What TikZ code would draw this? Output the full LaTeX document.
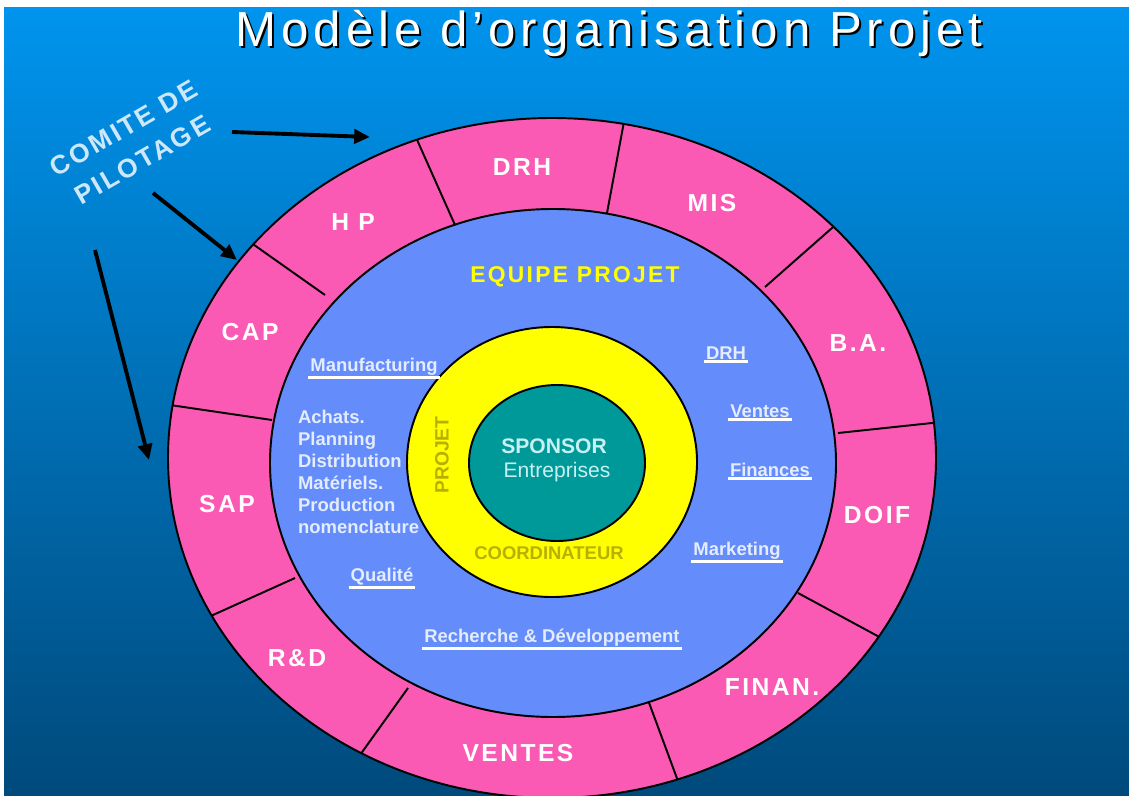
\documentclass[tikz,border=0pt]{standalone}
\usepackage{fontspec}
\setmainfont{Liberation Sans}
\newfontfamily\segfont{Liberation Sans}[LetterSpace=10]
\newfontfamily\titlefont{Liberation Sans}[LetterSpace=10]
\usetikzlibrary{positioning, arrows.meta, calc}

\definecolor{bgtop}{RGB}{0,148,238}
\definecolor{bgbot}{RGB}{0,74,124}
\definecolor{pinkring}{RGB}{250,90,180}
\definecolor{equipeblue}{RGB}{100,140,250}
\definecolor{sponsorteal}{RGB}{0,153,153}
\definecolor{coordyellow}{RGB}{255,255,0}
\definecolor{olive}{RGB}{185,175,0}
\definecolor{deptwhite}{RGB}{228,236,255}
\definecolor{sponsortext}{RGB}{200,240,240}
\definecolor{comitetext}{RGB}{205,232,252}

\begin{document}
\begin{tikzpicture}[x=0.2mm, y=-0.2mm,
    ring/.style={draw=black, line width=1.1pt},
    seg/.style={text=white, font=\segfont\bfseries\fontsize{14}{16}\selectfont},
    dept/.style={text=deptwhite, font=\bfseries\fontsize{10.5}{12.5}\selectfont, inner sep=1pt},
    ul/.style={white, line width=1.6pt},
    pil/.style={-{Triangle[length=9pt,width=8pt]}, line width=2.2pt, black}]
    \useasboundingbox (0,0) rectangle (1129,795);
    \clip (0,0) rectangle (1129,795);
    \fill[white] (0,0) rectangle (1129,795);
    \shade[top color=bgtop, bottom color=bgbot] (4,8) rectangle (1129,795);

    % titre
    \node[anchor=base, font=\titlefont\fontsize{28}{30}\selectfont, text=black] (titleshadow) at (611,49) {Modèle d’organisation Projet};
    \node[anchor=base, font=\titlefont\fontsize{28}{30}\selectfont, text=white] (title) at (609,47) {Modèle d’organisation Projet};

    % anneau des directions
    \fill[pinkring] (552,458) ellipse [x radius=384, y radius=340];
    \begin{scope}
      \clip (552,458) ellipse [x radius=384, y radius=340];
      \foreach \xo/\yo/\xi/\yi in {418/142/455/225, 623/127/607/213, 832/228/765/287, 932/423/838/433, 872/633/798/593,
                                   675/773/648/700, 360/755/408/688, 213/615/295/578, 170/405/272/420, 257/247/325/295}
        \draw[black, line width=1.1pt] (\xi,\yi) -- ($(\xi,\yi)!1.3!(\xo,\yo)$);
    \end{scope}
    \draw[ring] (552,458) ellipse [x radius=384, y radius=340];

    % equipe projet
    \draw[ring, fill=equipeblue] (553,463) ellipse [x radius=283, y radius=254];
    \draw[ring, fill=coordyellow] (552,462) ellipse [x radius=145, y radius=135];
    \draw[ring, fill=sponsorteal] (557,463) ellipse [x radius=88, y radius=78];

    \node[seg] (drh) at (522,167) {DRH};
    \node[seg] (hp) at (353,222) {H P};
    \node[seg] (cap) at (250,332) {CAP};
    \node[seg] (mis) at (712,203) {MIS};
    \node[seg] (ba) at (858,343) {B.A.};
    \node[seg] (doif) at (877,515) {DOIF};
    \node[seg] (finan) at (772,687) {FINAN.};
    \node[seg] (ventes) at (518,753) {VENTES};
    \node[seg] (rd) at (297,658) {R\&D};
    \node[seg] (sap) at (227,504) {SAP};

    \node[text=coordyellow, font=\segfont\bfseries\fontsize{13}{15}\selectfont] (equipe) at (575,277) {EQUIPE PROJET};

    \node[dept] (manu) at (374,367) {Manufacturing};
    \node[dept, anchor=north west, align=left] (achats) at (296,408) {Achats.\\Planning\\Distribution\\Matériels.\\Production\\nomenclature};
    \node[dept] (qual) at (382,577) {Qualité};
    \node[dept] (drhdept) at (726,353) {DRH};
    \node[dept] (ventesdept) at (760,411) {Ventes};
    \node[dept] (fin) at (770,470) {Finances};
    \node[dept] (mkt) at (737,551) {Marketing};
    \node[dept] (rech) at (552,638) {Recherche \& Développement};
    \foreach \n in {manu, qual, drhdept, ventesdept, fin, mkt, rech}
      \draw[ul] (\n.south west) -- (\n.south east);

    \node[text=sponsortext, font=\bfseries\fontsize{12}{14}\selectfont] (sponsor) at (554,446) {SPONSOR};
    \node[text=sponsortext, font=\fontsize{12}{14}\selectfont] (entr) at (557,472) {Entreprises};
    \node[text=olive, rotate=90, font=\bfseries\fontsize{11}{13}\selectfont] (projet) at (442,455) {PROJET};
    \node[text=olive, font=\bfseries\fontsize{10.5}{12}\selectfont] (coord) at (549,553) {COORDINATEUR};

    % comite de pilotage
    \node[text=comitetext, rotate=30, align=center, font=\segfont\bfseries\fontsize{15}{21}\selectfont] (comite) at (133,144) {COMITE DE\\PILOTAGE};
    \coordinate (f1s) at (232,132);
    \coordinate (f1e) at (370,137);
    \coordinate (f2s) at (153,193);
    \coordinate (f2e) at (237,260);
    \coordinate (f3s) at (95,250);
    \coordinate (f3e) at (149,460);
    \draw[pil] (f1s) -- (f1e);
    \draw[pil] (f2s) -- (f2e);
    \draw[pil] (f3s) -- (f3e);
\end{tikzpicture}
\end{document}
